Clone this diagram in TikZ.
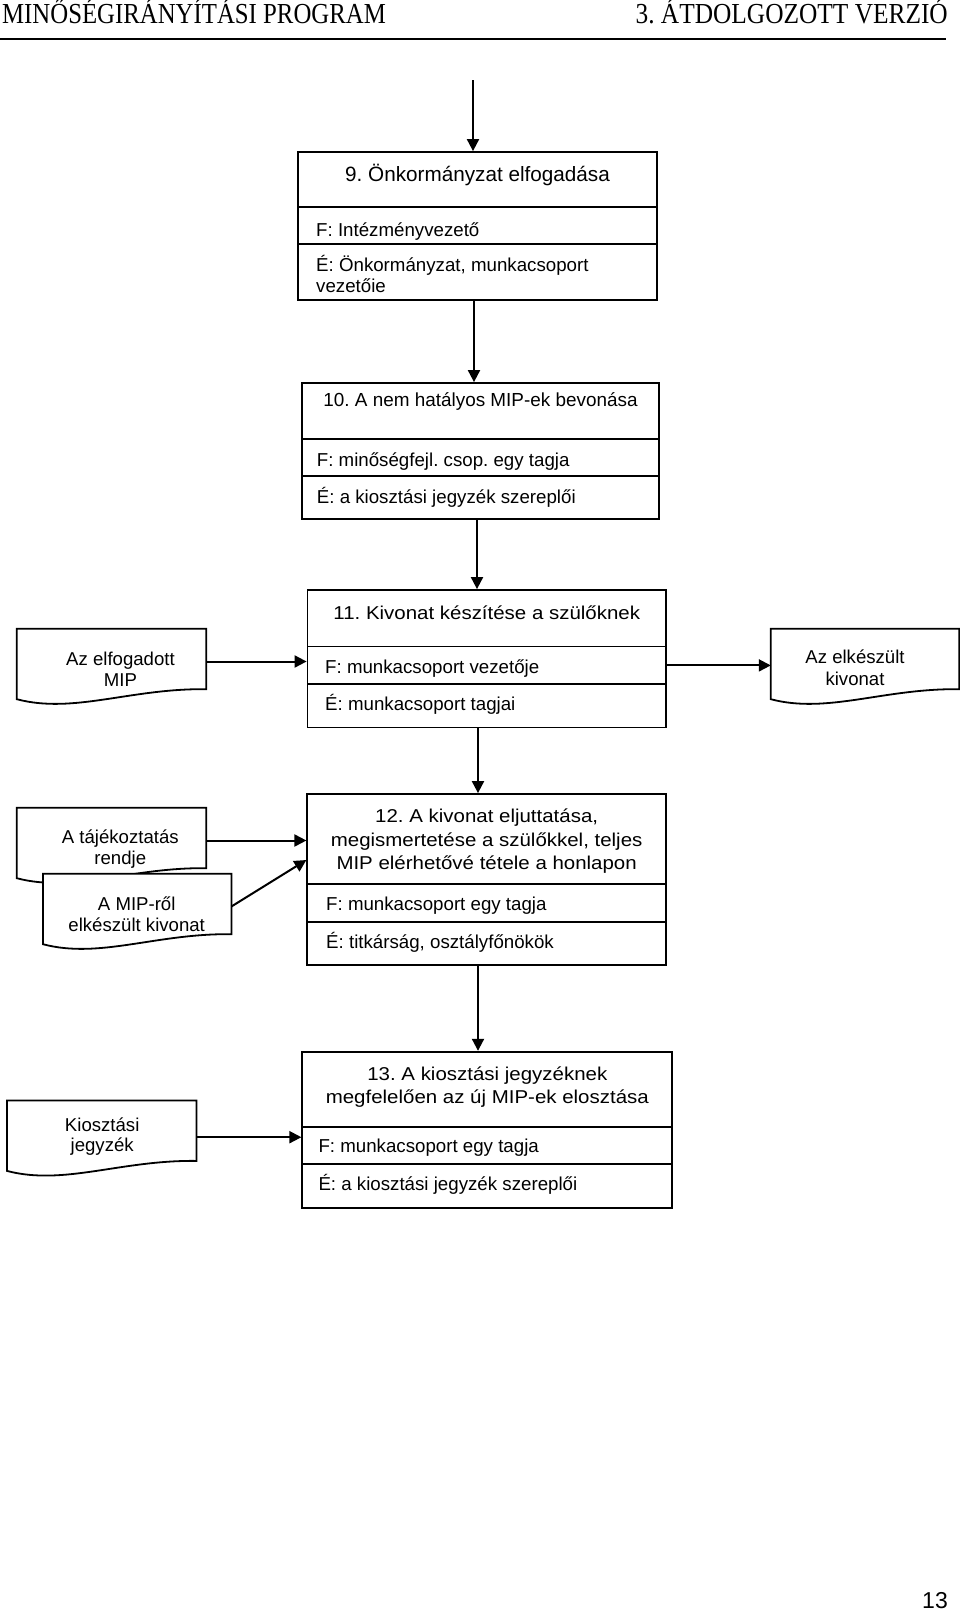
\documentclass[tikz,border=0pt]{standalone}
\usepackage{graphicx}
\usepackage{fontspec}
\setmainfont{Liberation Sans}
\newfontfamily\headfont{Liberation Serif}
\usetikzlibrary{arrows.meta,calc}
\frenchspacing
\tikzset{
 rowbox/.style={draw, line width=1.8pt, inner sep=0pt, fill=white},
 docnode/.style={inner sep=0pt, minimum width=189pt, minimum height=65pt},
 docline/.style={draw, line width=1.8pt, fill=white, line join=miter},
 arr/.style={line width=2pt, -{Triangle[length=12pt,width=12pt]}},
 ttl/.style={anchor=base, inner sep=0pt, font=\fontsize{18.6}{21}\selectfont},
 bigttl/.style={anchor=base, inner sep=0pt, font=\fontsize{20.7}{23}\selectfont},
 sub/.style={anchor=base west, inner sep=0pt, font=\fontsize{18.7}{21}\selectfont},
 dtx/.style={anchor=base, inner sep=0pt, font=\fontsize{18.6}{21}\selectfont},
 hdr/.style={inner sep=0pt, font=\headfont\fontsize{29}{32}\selectfont},
}
\newcommand\wx[1]{\scalebox{1.1}[1]{#1}}
\newcommand\docpath[1]{%
 \path[docline] let \p1=(#1.north west), \p2=(#1.south east) in
   (\x1,\y1) -- (\x2,\y1) -- (\x2,\y2+5pt)
   .. controls (\x1+0.6*\x2-0.6*\x1,\y2+6pt) and (\x1+0.3*\x2-0.3*\x1,\y2-20pt) ..
   (\x1,\y2-5pt) -- cycle;}
\begin{document}
\begin{tikzpicture}[x=1pt,y=-1pt]
\useasboundingbox (0,0) rectangle (960,1611);
\fill[white] (0,0) rectangle (960,1611);

% header
\node[hdr, anchor=base west] (hl) at (2,24) {\scalebox{0.855}[1]{MINŐSÉGIRÁNYÍTÁSI PROGRAM}};
\node[hdr, anchor=base east] (hr) at (948,24) {\scalebox{0.875}[1]{3. ÁTDOLGOZOTT VERZIÓ}};
\coordinate (hlineL) at (0,39);
\coordinate (hlineR) at (946,39);
\draw[line width=2.5pt] (hlineL) -- (hlineR);

% box 9
\node[rowbox, minimum width=359pt, minimum height=55pt] (b9t) at (477.5,179.5) {};
\node[rowbox, minimum width=359pt, minimum height=37pt] (b9f) at (477.5,225.5) {};
\node[rowbox, minimum width=359pt, minimum height=56pt] (b9e) at (477.5,272) {};
% box 10
\node[rowbox, minimum width=357.6pt, minimum height=56pt] (b10t) at (480.5,411) {};
\node[rowbox, minimum width=357.6pt, minimum height=37pt] (b10f) at (480.5,457.5) {};
\node[rowbox, minimum width=357.6pt, minimum height=43pt] (b10e) at (480.5,497.5) {};
% box 11
\node[rowbox, minimum width=358.5pt, minimum height=56.5pt] (b11t) at (486.75,618.25) {};
\node[rowbox, minimum width=358.5pt, minimum height=37.8pt] (b11f) at (486.75,665.4) {};
\node[rowbox, minimum width=358.5pt, minimum height=43.2pt] (b11e) at (486.75,705.9) {};
% box 12
\node[rowbox, minimum width=358.7pt, minimum height=90pt] (b12t) at (486.65,839) {};
\node[rowbox, minimum width=358.7pt, minimum height=37.7pt] (b12f) at (486.65,902.85) {};
\node[rowbox, minimum width=358.7pt, minimum height=43.3pt] (b12e) at (486.65,943.35) {};
% box 13
\node[rowbox, minimum width=370pt, minimum height=75pt] (b13t) at (487.3,1089.2) {};
\node[rowbox, minimum width=370pt, minimum height=37.6pt] (b13f) at (487.3,1145.5) {};
\node[rowbox, minimum width=370pt, minimum height=43.4pt] (b13e) at (487.3,1186) {};

% documents
\node[docnode] (dL) at (111.5,661.5) {};
\docpath{dL}
\node[docnode, minimum width=188pt] (dR) at (865,661.5) {};
\docpath{dR}
\node[docnode] (dA) at (111.5,840.5) {};
\docpath{dA}
\node[docnode, minimum width=188pt] (dB) at (137.2,906.5) {};
\docpath{dB}
\node[docnode] (dK) at (101.7,1133.2) {};
\docpath{dK}

% connectors
\coordinate (in9) at (473,80);
\draw[arr] (in9) -- (in9 |- b9t.north);
\coordinate (x474) at (474,0);
\draw[arr] (b9e.south -| x474) -- (b10t.north -| x474);
\coordinate (x477) at (477,0);
\draw[arr] (b10e.south -| x477) -- (b11t.north -| x477);
\coordinate (x478) at (478,0);
\draw[arr] (b11e.south -| x478) -- (b12t.north -| x478);
\draw[arr] (b12e.south -| x478) -- (b13t.north -| x478);
\draw[arr] (dL.east) -- (dL.east -| b11f.west);
\draw[arr] (b11f.east) -- (b11f.east -| dR.west);
\draw[arr] (dA.east) -- (dA.east -| b12t.west);
\draw[arr] (dB.east) -- ([yshift=-21pt]b12t.west);
\coordinate (kA) at ([yshift=-4pt]dK.east);
\draw[arr] (kA) -- (kA -| b13f.west);

% box texts
\node[bigttl] (t9) at (477.5,181) {9. Önkormányzat elfogadása};
\node[sub] (f9) at (316,236) {F: Intézményvezető};
\node[sub] (e9a) at (316,271.3) {É: Önkormányzat, munkacsoport};
\node[sub] (e9b) at (316,292.7) {vezetőie};

\node[ttl, font=\fontsize{18.9}{21}\selectfont] (t10) at (480.5,406) {10. A nem hatályos MIP-ek bevonása};
\node[sub] (f10) at (316.7,466.7) {F: minőségfejl. csop. egy tagja};
\node[sub] (e10) at (316.7,503.3) {É: a kiosztási jegyzék szereplői};

\node[ttl] (t11) at (486.75,619.3) {\wx{11. Kivonat készítése a szülőknek}};
\node[sub] (f11) at (325,673.3) {F: munkacsoport vezetője};
\node[sub] (e11) at (325,710) {É: munkacsoport tagjai};

\node[ttl] (t12a) at (486.65,822) {\wx{12. A kivonat eljuttatása,}};
\node[ttl] (t12b) at (486.65,846) {\wx{megismertetése a szülőkkel, teljes}};
\node[ttl] (t12c) at (486.65,869.5) {\wx{MIP elérhetővé tétele a honlapon}};
\node[sub] (f12) at (326,910) {F: munkacsoport egy tagja};
\node[sub] (e12) at (326,948.3) {É: titkárság, osztályfőnökök};

\node[ttl] (t13a) at (487.3,1080) {\wx{13. A kiosztási jegyzéknek}};
\node[ttl] (t13b) at (487.3,1103.3) {\wx{megfelelően az új MIP-ek elosztása}};
\node[sub] (f13) at (318.3,1152.7) {F: munkacsoport egy tagja};
\node[sub] (e13) at (318.3,1190) {É: a kiosztási jegyzék szereplői};

% document texts
\node[dtx] (dLa) at (120.5,665) {Az elfogadott};
\node[dtx] (dLb) at (120.5,686) {MIP};
\node[dtx] (dRa) at (855,663.3) {Az elkészült};
\node[dtx] (dRb) at (855,685) {kivonat};
\node[dtx] (dAa) at (120.3,843.3) {A tájékoztatás};
\node[dtx] (dAb) at (120.3,864) {rendje};
\node[dtx] (dBa) at (136.7,910) {A MIP-ről};
\node[dtx] (dBb) at (136.7,931.7) {elkészült kivonat};
\node[dtx] (dKa) at (102.2,1131.5) {Kiosztási};
\node[dtx] (dKb) at (102.2,1151.5) {jegyzék};

% page number
\node[dtx, anchor=base east, font=\fontsize{23}{26}\selectfont] (pg) at (948,1608) {13};
\end{tikzpicture}
\end{document}
